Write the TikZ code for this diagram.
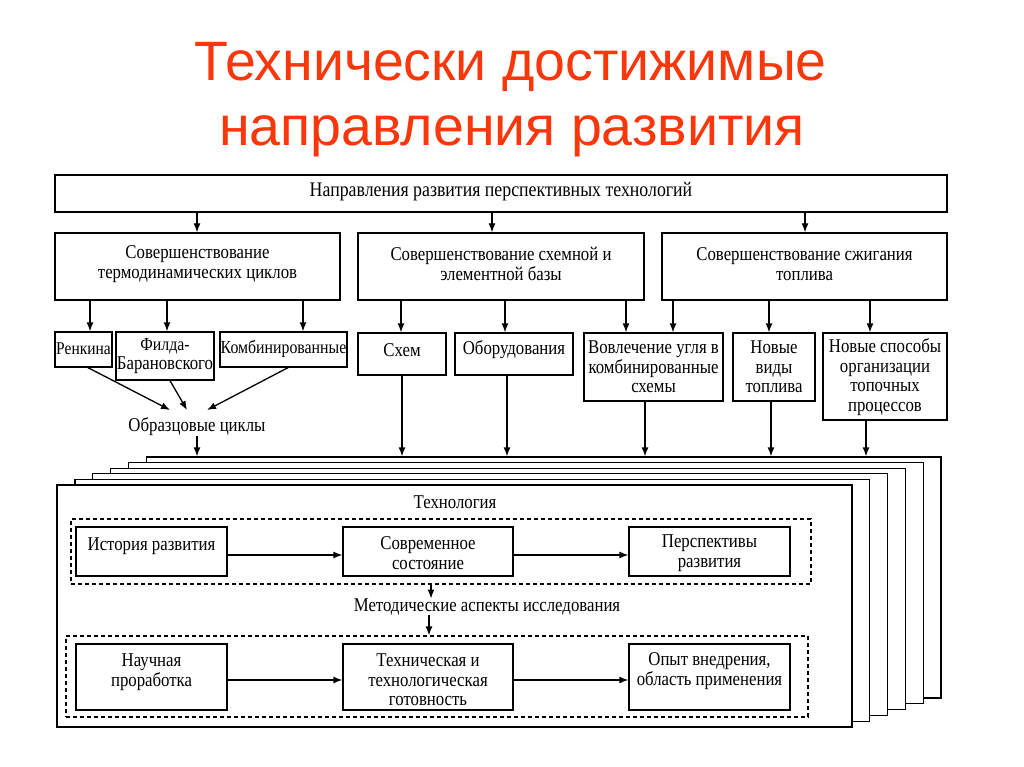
\documentclass[tikz,border=0pt]{standalone}
\usepackage{fontspec}
\setmainfont{Liberation Serif}
\newfontfamily\ttlfont{Liberation Sans}
\newfontfamily\dgfont[FakeStretch=0.86]{Liberation Serif}
\usetikzlibrary{arrows.meta}
\definecolor{ttlred}{RGB}{250,55,10}
\newcommand\bx[7]{%
  \node[bxs, minimum width={(#4-#2)*1pt}, minimum height={(#5-#3)*1pt}] (#1) at ({(#2+#4)/2},{(#3+#5)/2}) {};
  \node[txt] (#1-t) at ({(#2+#4)/2},#6) {#7};
}
\tikzset{
  bxs/.style={draw, line width=1.3pt, fill=white, inner sep=0pt, rectangle},
  dsh/.style={draw, line width=1.1pt, dash pattern=on 4pt off 3pt, inner sep=0pt, rectangle},
  txt/.style={align=center, inner sep=0pt, font=\dgfont\fontsize{19.5}{19.7}\selectfont},
  small/.style={font=\dgfont\fontsize{18.4}{21}\selectfont},
  arr/.style={line width=1.3pt, -{Latex[length=9pt,width=7pt]}},
}
\begin{document}
\begin{tikzpicture}[x=1pt,y=-1pt]
\useasboundingbox (0,0) rectangle (1024,767);
% title
\node[anchor=base, text=ttlred, font=\ttlfont\fontsize{55.5}{60}\selectfont, inner sep=0pt] (ttl1) at (510.5,81) {Технически достижимые};
\node[anchor=base, text=ttlred, font=\ttlfont\fontsize{55.5}{60}\selectfont, inner sep=0pt] (ttl2) at (512,146) {направления развития};
% level 1
\node[bxs, minimum width=892pt, minimum height=37pt] (top) at (501,193.5) {};
\node[txt, font=\dgfont\fontsize{20.7}{21}\selectfont] (top-t) at (501,192) {Направления развития перспективных технологий};
% level 2
\bx{la}{55}{233}{340}{300}{264}{Совершенствование\\термодинамических циклов}
\bx{lb}{358}{233}{644}{300}{264}{Совершенствование схемной и\\элементной базы}
\bx{lc}{662}{233}{947}{300}{264}{Совершенствование сжигания\\топлива}
\foreach \x/\n in {197/la,492/lb,805/lc}
  \draw[arr] (top.south -| \x,0) -- (\n.north -| \x,0);
% level 3
\bx{rk}{55}{332}{112}{367}{349}{\fontsize{18}{20}\selectfont Ренкина}
\bx{fb}{116}{332}{214}{380}{356}{\fontsize{18.4}{21}\selectfont Филда-\\Барановского}
\bx{km}{220}{332}{347}{367}{349}{\fontsize{18.4}{20}\selectfont Комбинированные}
\bx{sh}{358}{333}{446}{375}{350}{Схем}
\bx{ob}{455}{333}{573}{375}{350}{Оборудования}
\bx{vu}{584}{333}{723}{401}{367}{Вовлечение угля в\\комбинированные\\схемы}
\bx{nv}{733}{333}{815}{401}{367}{Новые\\виды\\топлива}
\bx{ns}{823}{333}{947}{420}{377}{Новые способы\\организации\\топочных\\процессов}
\foreach \x/\a/\b in {90/la/rk,167/la/fb,303/la/km,401/lb/sh,505/lb/ob,626/lb/vu,673/lc/vu,769/lc/nv,870/lc/ns}
  \draw[arr] (\a.south -| \x,0) -- (\b.north -| \x,0);
% model cycles
\node[txt] (oc) at (197,427) {Образцовые циклы};
\coordinate (oc1) at (170,410);
\coordinate (oc2) at (187,410);
\coordinate (oc3) at (207,410);
\draw[arr] (rk.south -| 88,0) -- (oc1);
\draw[arr] (fb.south -| 170,0) -- (oc2);
\draw[arr] (km.south -| 288,0) -- (oc3);
% stacked frames
\foreach \i in {5,4,3,2,1,0}{
  \pgfmathsetmacro\xa{57+17.9*\i}
  \pgfmathsetmacro\ya{485-5.6*\i}
  \pgfmathsetmacro\xb{852+17.8*\i}
  \pgfmathsetmacro\yb{727-5.8*\i}
  \node[bxs, minimum width={(\xb-\xa)*1pt}, minimum height={(\yb-\ya)*1pt}] (fr\i) at ({(\xa+\xb)/2},{(\ya+\yb)/2}) {};
}
\draw[arr] (oc.south -| 197,0) -- (fr5.north -| 197,0);
\foreach \x/\n in {402/sh,507/ob,645/vu,771/nv,866/ns}
  \draw[arr] (\n.south -| \x,0) -- (fr5.north -| \x,0);
% inside front frame
\node[txt] (tech) at (455,502) {Технология};
\node[dsh, minimum width=740pt, minimum height=65pt] (d1) at (441,551.5) {};
\bx{hist}{76}{527}{227}{576}{546}{История развития}
\bx{sovr}{343}{527}{513}{576}{553}{Современное\\состояние}
\bx{pers}{629}{527}{790}{576}{553}{Перспективы\\развития}
\draw[arr] (hist.east |- 0,555) -- (sovr.west |- 0,555);
\draw[arr] (sovr.east |- 0,555) -- (pers.west |- 0,555);
\node[txt] (met) at (487,607) {Методические аспекты исследования};
\node[dsh, minimum width=742pt, minimum height=81pt] (d2) at (437,676.5) {};
\draw[arr] (d1.south -| 431,0) -- (met.north -| 431,0);
\draw[arr] (met.south -| 429,0) -- (d2.north -| 429,0);
\bx{nauch}{76}{644}{227}{710}{672}{Научная\\проработка}
\bx{tehn}{343}{644}{513}{710}{680}{Техническая и\\технологическая\\готовность}
\bx{opyt}{629}{644}{790}{710}{671}{Опыт внедрения,\\область применения}
\draw[arr] (nauch.east |- 0,680) -- (tehn.west |- 0,680);
\draw[arr] (tehn.east |- 0,680) -- (opyt.west |- 0,680);
\end{tikzpicture}
\end{document}
